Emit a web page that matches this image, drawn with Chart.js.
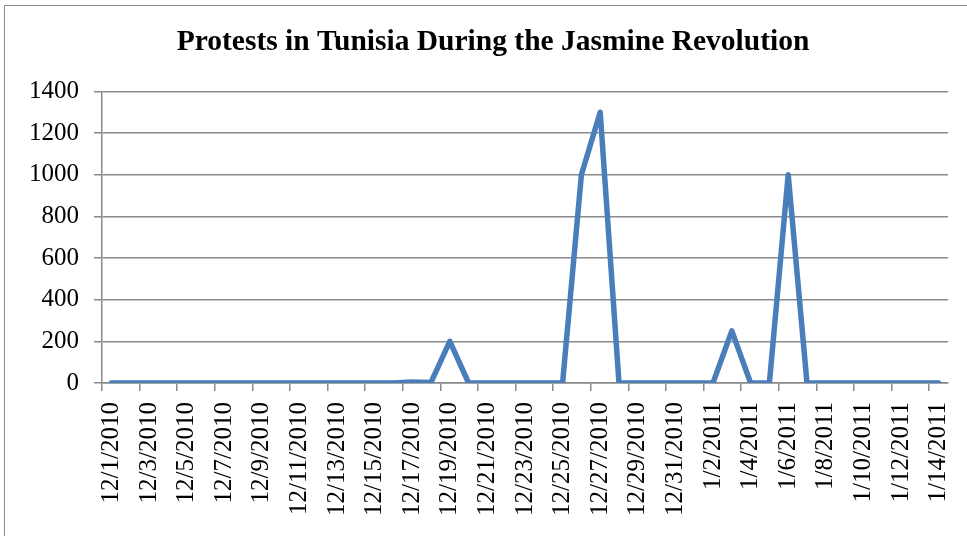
<!DOCTYPE html>
<html>
<head>
<meta charset="utf-8">
<script src="https://cdn.jsdelivr.net/npm/chart.js@4.4.1/dist/chart.umd.min.js"></script>
<style>
  html, body { margin: 0; padding: 0; background: #fff; }
  #wrap { position: relative; width: 967px; height: 536px; overflow: hidden; }
  #frame { position: absolute; left: 4px; top: 5px; width: 2000px; height: 2000px; border: 1.5px solid #8a8a8a; box-sizing: border-box; }
  canvas { position: absolute; left: 0; top: 0; }
</style>
</head>
<body>
<div id="wrap">
  <div id="frame"></div>
  <!-- canvas runs a bit past the right edge, like the original chart frame -->
  <canvas id="chart" width="986" height="536"></canvas>
</div>
<script>
// daily dates, 12/1/2010 .. 1/14/2011
const dates = [
  '12/1/2010','12/2/2010','12/3/2010','12/4/2010','12/5/2010','12/6/2010','12/7/2010','12/8/2010',
  '12/9/2010','12/10/2010','12/11/2010','12/12/2010','12/13/2010','12/14/2010','12/15/2010','12/16/2010',
  '12/17/2010','12/18/2010','12/19/2010','12/20/2010','12/21/2010','12/22/2010','12/23/2010','12/24/2010',
  '12/25/2010','12/26/2010','12/27/2010','12/28/2010','12/29/2010','12/30/2010','12/31/2010',
  '1/1/2011','1/2/2011','1/3/2011','1/4/2011','1/5/2011','1/6/2011','1/7/2011','1/8/2011',
  '1/9/2011','1/10/2011','1/11/2011','1/12/2011','1/13/2011','1/14/2011'
];
const protests = [
  0, 0, 0, 0, 0, 0, 0, 0,
  0, 0, 0, 0, 0, 0, 0, 0,
  5, 3, 200, 0, 0, 0, 0, 0,
  0, 1000, 1300, 0, 0, 0, 0,
  0, 0, 250, 0, 0, 1000, 0, 0,
  0, 0, 0, 0, 0, 0
];
const yTicks = [0, 200, 400, 600, 800, 1000, 1200, 1400];

const serif = '"Liberation Serif", "Times New Roman", serif';
const gray = '#8a8a8a';

// centre the title on the whole frame, not just the plot box
const titleCenter = {
  id: 'titleCenter',
  afterLayout(chart) {
    if (chart.titleBlock) chart.titleBlock.right = chart.width;
  }
};

new Chart(document.getElementById('chart'), {
  type: 'line',
  data: {
    labels: dates,
    datasets: [{
      data: protests,
      borderColor: '#4a7ebb',
      borderWidth: 5.5,
      borderJoinStyle: 'round',
      borderCapStyle: 'round',
      pointRadius: 0,
      tension: 0
    }]
  },
  plugins: [titleCenter],
  options: {
    responsive: false,
    animation: false,
    layout: { padding: { left: 0, right: 38, top: 0, bottom: 0 } },
    plugins: {
      legend: { display: false },
      tooltip: { enabled: false },
      title: {
        display: true,
        text: 'Protests in Tunisia During the Jasmine Revolution',
        color: '#000',
        font: { family: serif, size: 29.5, weight: 'bold' },
        padding: { top: 25, bottom: 31 }
      }
    },
    scales: {
      x: {
        offset: true,
        grid: {
          offset: true,
          drawOnChartArea: false,
          tickLength: 8,
          lineWidth: 1.5,
          color: ctx => (ctx.index % 2 === 0 ? gray : 'rgba(0,0,0,0)')
        },
        border: { color: gray, width: 1.5 },
        ticks: {
          autoSkip: false,
          maxRotation: 90,
          minRotation: 90,
          padding: 11,
          color: '#000',
          font: { family: serif, size: 25 },
          callback: function (v, i) { return i % 2 === 0 ? this.getLabelForValue(v) : ''; }
        },
        afterFit: s => { s.height = 153; s.paddingLeft = 0; s.paddingRight = 0; }
      },
      y: {
        min: 0,
        max: 1400,
        afterBuildTicks: s => { s.ticks = yTicks.map(v => ({ value: v })); },
        grid: { color: gray, lineWidth: 1.5, tickLength: 8 },
        border: { color: gray, width: 1.5 },
        ticks: {
          padding: 15,
          color: '#000',
          font: { family: serif, size: 25 },
          callback: v => String(v)
        },
        afterFit: s => { s.width = 102; }
      }
    }
  }
});
</script>
</body>
</html>
